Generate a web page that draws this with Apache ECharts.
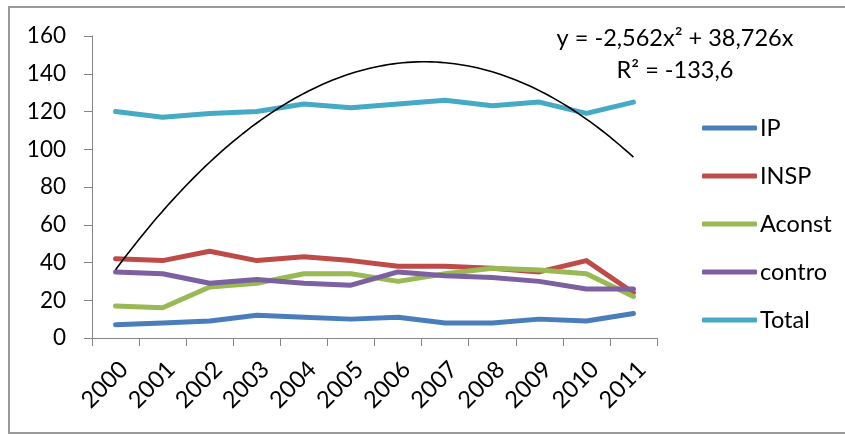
<!DOCTYPE html>
<html>
<head>
<meta charset="utf-8">
<script src="https://cdn.jsdelivr.net/npm/echarts@6/dist/echarts.min.js"></script>
<style>
  html, body { margin: 0; padding: 0; background: #fff; }
  #chart { width: 845px; height: 434px; }
</style>
</head>
<body>
<div id="chart"></div>
<script>
// Yearly counts per category
const years = ['2000','2001','2002','2003','2004','2005','2006','2007','2008','2009','2010','2011'];
const ip     = [7, 8, 9, 12, 11, 10, 11, 8, 8, 10, 9, 13];
const insp   = [42, 41, 46, 41, 43, 41, 38, 38, 37, 35, 41, 24];
const aconst = [17, 16, 27, 29, 34, 34, 30, 34, 37, 36, 34, 22];
const contro = [35, 34, 29, 31, 29, 28, 35, 33, 32, 30, 26, 26];
const total  = [120, 117, 119, 120, 124, 122, 124, 126, 123, 125, 119, 125];
const yTicks = [0, 20, 40, 60, 80, 100, 120, 140, 160];

// Polynomial trendline fitted on Total: y = a*x^2 + b*x (x = 1..12)
const trendCoef = [-2.562, 38.726];
const trendLabel = ['y = -2,562x\u00B2 + 38,726x', 'R\u00B2 = -133,6'];

const trendPts = [];
for (let i = 0; i <= 110; i++) {
  const x = 1 + i / 10;
  trendPts.push([x, trendCoef[0] * x * x + trendCoef[1] * x]);
}

const FONT = 'Lato, "Open Sans", sans-serif';
const AXIS_GRAY = '#868686';

function lineSeries(name, data, color) {
  return {
    name, type: 'line', data,
    xAxisIndex: 0, yAxisIndex: 0,
    symbol: 'none', showSymbol: false,
    lineStyle: { width: 5, color, cap: 'round', join: 'round' },
    itemStyle: { color },
    emphasis: { disabled: true },
    z: 2
  };
}

const chart = echarts.init(document.getElementById('chart'), null, { renderer: 'canvas' });
chart.setOption({
  animation: false,
  backgroundColor: '#fff',
  grid: { left: 92, right: 188, top: 36, bottom: 96, containLabel: false },
  xAxis: [
    {
      type: 'category', data: years, boundaryGap: true,
      axisLine: { lineStyle: { color: AXIS_GRAY, width: 1 } },
      axisTick: { show: true, length: 8, lineStyle: { color: AXIS_GRAY } },
      axisLabel: {
        rotate: 45, margin: 19, interval: 0,
        color: '#000', fontSize: 23.5, fontFamily: FONT,
        align: 'right', verticalAlign: 'top'
      },
      splitLine: { show: false }
    },
    {
      type: 'value', min: 0.5, max: 12.5, show: false,
      splitLine: { show: false }
    }
  ],
  yAxis: {
    type: 'value', min: yTicks[0], max: yTicks[yTicks.length - 1], interval: 20,
    axisLine: { show: true, lineStyle: { color: AXIS_GRAY, width: 1 } },
    axisTick: { show: true, length: 8, lineStyle: { color: AXIS_GRAY } },
    axisLabel: { margin: 26, color: '#000', fontSize: 22.5, fontFamily: FONT },
    splitLine: { show: false }
  },
  legend: {
    data: ['IP', 'INSP', 'Aconst', 'contro', 'Total'],
    orient: 'vertical', left: 697, top: 110,
    icon: 'roundRect', itemWidth: 55, itemHeight: 5, itemGap: 22,
    textStyle: { color: '#000', fontSize: 23.5, fontFamily: FONT, lineHeight: 26, padding: [0, 0, 0, -2] },
    selectedMode: false
  },
  series: [
    lineSeries('IP', ip, '#4A7EBB'),
    lineSeries('INSP', insp, '#BE4B48'),
    lineSeries('Aconst', aconst, '#98B954'),
    lineSeries('contro', contro, '#7D60A0'),
    lineSeries('Total', total, '#46AAC5'),
    {
      name: 'trend', type: 'line', data: trendPts,
      xAxisIndex: 1, yAxisIndex: 0,
      symbol: 'none', showSymbol: false,
      lineStyle: { width: 1.6, color: '#000' },
      emphasis: { disabled: true },
      z: 3
    }
  ],
  graphic: [
    {
      type: 'rect', silent: true, z: -1,
      shape: { x: 9, y: 7, width: 850, height: 426 },
      style: { fill: 'none', stroke: '#9a9a9a', lineWidth: 2 }
    },
    {
      type: 'text', x: 675, y: 38, silent: true,
      style: { text: trendLabel[0], fill: '#000', font: '23.5px ' + FONT, align: 'center', verticalAlign: 'middle' }
    },
    {
      type: 'text', x: 675, y: 70, silent: true,
      style: { text: trendLabel[1], fill: '#000', font: '23.5px ' + FONT, align: 'center', verticalAlign: 'middle' }
    }
  ]
});
</script>
</body>
</html>
